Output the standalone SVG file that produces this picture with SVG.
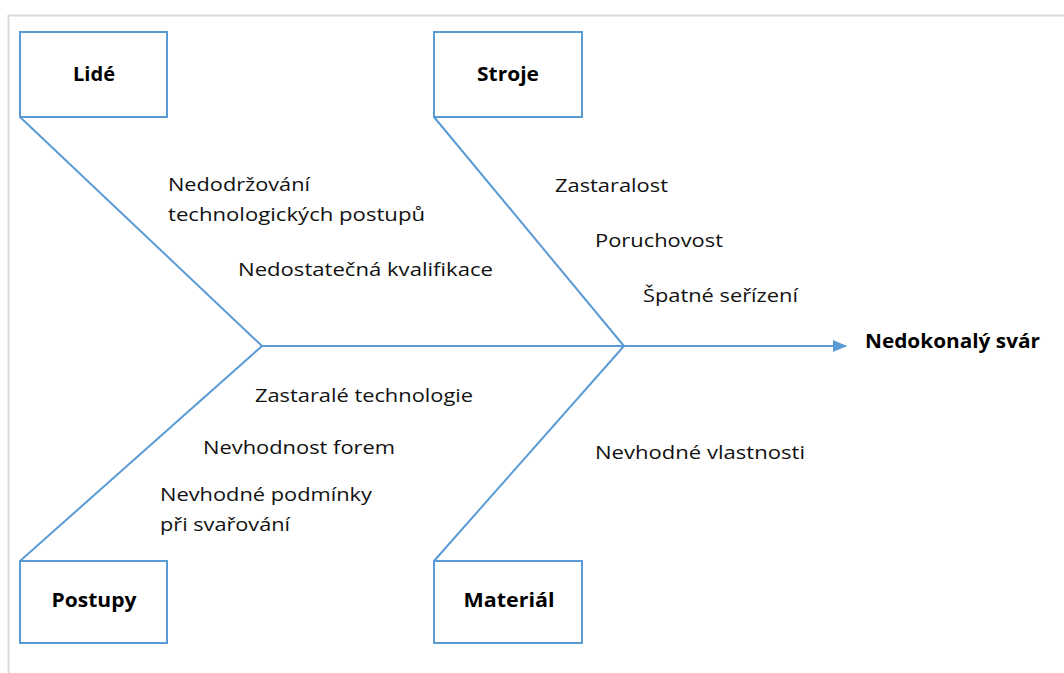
<svg xmlns="http://www.w3.org/2000/svg" width="1064" height="673" viewBox="0 0 1064 673">
  <style>
    .frame { fill: none; stroke: #d9d9d9; stroke-width: 2; }
    .box { fill: #ffffff; stroke: #5b9bd5; stroke-width: 2; }
    .bone { fill: none; stroke: #5b9bd5; stroke-width: 2; }
    .title { font-family: "Open Sans", "Liberation Sans", sans-serif; font-size: 20px; font-weight: bold; fill: #000000; text-anchor: middle; }
    .cause { font-family: "Open Sans", "Liberation Sans", sans-serif; font-size: 19px; fill: #111111; }
    .effect { font-family: "Open Sans", "Liberation Sans", sans-serif; font-size: 20px; font-weight: bold; fill: #000000; }
  </style>
  <defs>
    <marker id="arrow" markerWidth="14" markerHeight="12" refX="13" refY="6" orient="auto" markerUnits="userSpaceOnUse">
      <path d="M0,0 L14,6 L0,12 Z" fill="#5b9bd5"/>
    </marker>
  </defs>

  <rect width="1064" height="673" fill="#ffffff"/>
  <!-- page frame -->
  <path class="frame" d="M8.5,673 L8.5,15.5 L1064,15.5"/>

  <!-- fishbone connectors -->
  <g id="connectors">
    <line class="bone" x1="262" y1="346" x2="846" y2="346" marker-end="url(#arrow)"/>
    <line class="bone" x1="20" y1="117" x2="262" y2="346"/>
    <line class="bone" x1="20" y1="561" x2="262" y2="346"/>
    <line class="bone" x1="434" y1="117" x2="624" y2="346"/>
    <line class="bone" x1="434" y1="561" x2="624" y2="346"/>
  </g>

  <!-- category nodes -->
  <g id="node-lide">
    <rect class="box" x="20" y="32" width="147" height="85"/>
    <text class="title" x="94" y="81" textLength="42" lengthAdjust="spacingAndGlyphs">Lidé</text>
  </g>
  <g id="node-stroje">
    <rect class="box" x="434" y="32" width="148" height="85"/>
    <text class="title" x="508" y="81" textLength="62" lengthAdjust="spacingAndGlyphs">Stroje</text>
  </g>
  <g id="node-postupy">
    <rect class="box" x="20" y="561" width="147" height="82"/>
    <text class="title" x="94" y="607" textLength="85" lengthAdjust="spacingAndGlyphs">Postupy</text>
  </g>
  <g id="node-material">
    <rect class="box" x="434" y="561" width="148" height="82"/>
    <text class="title" x="509" y="607" textLength="91" lengthAdjust="spacingAndGlyphs">Materiál</text>
  </g>

  <!-- causes -->
  <g id="causes-lide">
    <text class="cause" x="168" y="191" textLength="142" lengthAdjust="spacingAndGlyphs">Nedodržování</text>
    <text class="cause" x="168" y="221" textLength="257" lengthAdjust="spacingAndGlyphs">technologických postupů</text>
    <text class="cause" x="238" y="276" textLength="255" lengthAdjust="spacingAndGlyphs">Nedostatečná kvalifikace</text>
  </g>
  <g id="causes-stroje">
    <text class="cause" x="555" y="192" textLength="113" lengthAdjust="spacingAndGlyphs">Zastaralost</text>
    <text class="cause" x="595" y="247" textLength="128" lengthAdjust="spacingAndGlyphs">Poruchovost</text>
    <text class="cause" x="643" y="302" textLength="155" lengthAdjust="spacingAndGlyphs">Špatné seřízení</text>
  </g>
  <g id="causes-postupy">
    <text class="cause" x="255" y="402" textLength="218" lengthAdjust="spacingAndGlyphs">Zastaralé technologie</text>
    <text class="cause" x="203" y="454" textLength="192" lengthAdjust="spacingAndGlyphs">Nevhodnost forem</text>
    <text class="cause" x="160" y="501" textLength="212" lengthAdjust="spacingAndGlyphs">Nevhodné podmínky</text>
    <text class="cause" x="160" y="531" textLength="130" lengthAdjust="spacingAndGlyphs">při svařování</text>
  </g>
  <g id="causes-material">
    <text class="cause" x="595" y="459" textLength="210" lengthAdjust="spacingAndGlyphs">Nevhodné vlastnosti</text>
  </g>

  <!-- effect -->
  <g id="node-effect">
    <text class="effect" x="865" y="348" textLength="175" lengthAdjust="spacingAndGlyphs">Nedokonalý svár</text>
  </g>
</svg>
